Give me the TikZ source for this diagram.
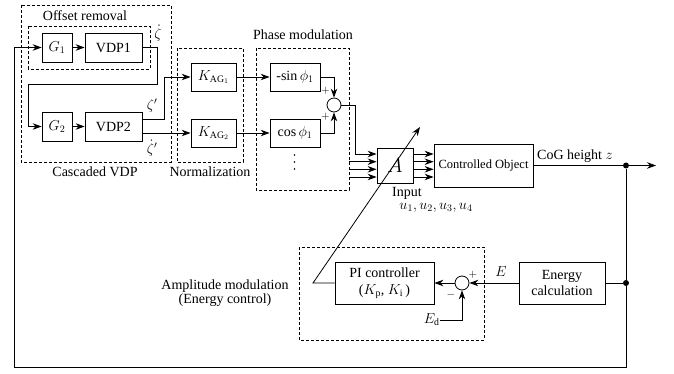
\documentclass[tikz,border=0pt]{standalone}
\usepackage{fontspec}
\setmainfont{Liberation Serif}
\usetikzlibrary{arrows.meta,calc}
\begin{document}
\begin{tikzpicture}[x=1pt,y=-1pt,
  line width=0.8pt,
  font=\fontsize{14}{16}\selectfont,
  blk/.style={draw,rectangle,inner sep=0pt,align=center},
  sumc/.style={draw,circle,inner sep=0pt,minimum size=14pt},
  dbox/.style={draw,line width=0.6pt,dash pattern=on 3pt off 2pt},
  arr/.style={-{Stealth[length=9pt,width=6.5pt,inset=3pt]}},
  dotn/.style={circle,fill,inner sep=0pt,minimum size=6pt},
  vdot/.style={circle,fill,inner sep=0pt,minimum size=1.8pt},
  lbl/.style={inner sep=0pt},
  sgn/.style={inner sep=0pt,font=\fontsize{11}{12}\selectfont}]
\useasboundingbox (0,0) rectangle (674,374);

% dashed boxes
\draw[dbox] (21,5) rectangle (171,162);
\draw[dbox] (28,26.5) rectangle (150,69);
\draw[dbox] (177,48) rectangle (243,162);
\draw[dbox] (256,48) rectangle (349,190);
\draw[dbox] (299,247) rectangle (484,340);

% blocks
\node[blk,minimum width=30pt,minimum height=29pt] (G1) at (57,47.5) {$G_1$};
\node[blk,minimum width=57pt,minimum height=29pt] (V1) at (113.5,47.5) {VDP1};
\node[blk,minimum width=30pt,minimum height=29pt] (G2) at (57,126.5) {$G_2$};
\node[blk,minimum width=57pt,minimum height=29pt] (V2) at (113.5,126.5) {VDP2};
\node[blk,minimum width=45pt,minimum height=28pt] (K1) at (213.5,77) {$K_{\mathrm{AG}_1}$};
\node[blk,minimum width=45pt,minimum height=28pt] (K2) at (213.5,133) {$K_{\mathrm{AG}_2}$};
\node[blk,minimum width=50pt,minimum height=28pt] (S) at (295,77) {-$\sin\phi_1$};
\node[blk,minimum width=50pt,minimum height=28pt] (C) at (295,133) {$\cos\phi_1$};
\node[vdot] (vd1) at (294.5,155) {};
\node[vdot] (vd2) at (294.5,162) {};
\node[vdot] (vd3) at (294.5,169) {};
\node[sumc] (s1) at (334,105) {};
\node[blk,minimum width=36pt,minimum height=35pt,font=\fontsize{20}{22}\selectfont] (A) at (395,165.5) {$A$};
\node[blk,minimum width=99pt,minimum height=43pt,font=\fontsize{12.5}{14}\selectfont] (CO) at (483.5,165.5) {Controlled Object};
\node[dotn] (d1) at (626,165.5) {};
\coordinate (out) at (656,165.5);
\node[blk,minimum width=99pt,minimum height=42pt] (PI) at (384.5,283) {PI controller\\[1pt]($K_{\mathrm{p}}$, $K_{\mathrm{i}}$\,)};
\node[sumc] (s2) at (462,283) {};
\node[blk,minimum width=86pt,minimum height=42pt] (EC) at (562,283) {Energy\\calculation};
\node[dotn] (d2) at (626,283) {};

% labels
\node[lbl] (lofs) at (85,16) {Offset removal};
\node[lbl] (lcas) at (95,172) {Cascaded VDP};
\node[lbl] (lnor) at (210,172) {Normalization};
\node[lbl] (lpha) at (303,35) {Phase modulation};
\node[lbl] (linp) at (407,193.5) {Input};
\node[lbl] (lu) at (436,208) {$u_1, u_2, u_3, u_4$};
\node[lbl] (lcog) at (575,156) {CoG height $z$};
\node[lbl,align=center] (lamp) at (225,293) {Amplitude modulation\\[-2pt](Energy control)};
\node[lbl] (lz1) at (158,33) {$\dot\zeta$};
\node[lbl] (lz2) at (152,106) {$\zeta'$};
\node[lbl] (lz3) at (152,148) {$\dot\zeta'$};
\node[lbl] (lE) at (501,272) {$E$};
\node[lbl,anchor=east] (Ed) at (440,320) {$E_{\mathrm{d}}$};
\node[sgn] (p1) at (325.5,90.5) {$+$};
\node[sgn] (p2) at (325.5,116.5) {$+$};
\node[sgn] (p3) at (473,275) {$+$};
\node[sgn] (p4) at (451,295) {$-$};

% connectors, cascaded VDP
\draw[arr] (G1) -- (V1);
\draw[arr] (G2) -- (V2);
\draw[arr] (V1.east) -- (157,47.5) -- (157,84) -- (28,84) |- (G2.west);
\draw[arr] ([yshift=7.5pt]V2.east) -- (164,119) |- (K1.west);
\draw[arr] (V2.east |- K2.west) -- (K2.west);
\draw[arr] (K1) -- (S);
\draw[arr] (K2) -- (C);
\draw[arr] (S.east) -| (s1.north);
\draw[arr] (C.east) -| (s1.south);
\draw[arr] (s1.east) -- (355,105) |- ([yshift=11.5pt]A.west);
\foreach \dy in {3.8,-3.8,-11.5}
  \draw[arr] (349,165.5-\dy) -- ([yshift=\dy pt]A.west);
\foreach \dy in {11.5,3.8,-3.8,-11.5}
  \draw[arr] ([yshift=\dy pt]A.east) -- ([yshift=\dy pt]A.east -| CO.west);
\draw[arr] (CO.east) -- (out);
% amplitude modulation
\draw[arr] (PI.west) -- (313,283) -- (420,127);
\draw[arr] (EC.west) -- (s2.east);
\draw[arr] (s2.west) -- (PI.east);
\draw[arr] (Ed.east) -| (s2.south);
\draw (d2) -- (EC.east);
\draw (d1) -- (d2);
\draw[arr] (d2) -- (626,367) -- (14,367) |- (G1.west);
\end{tikzpicture}
\end{document}
